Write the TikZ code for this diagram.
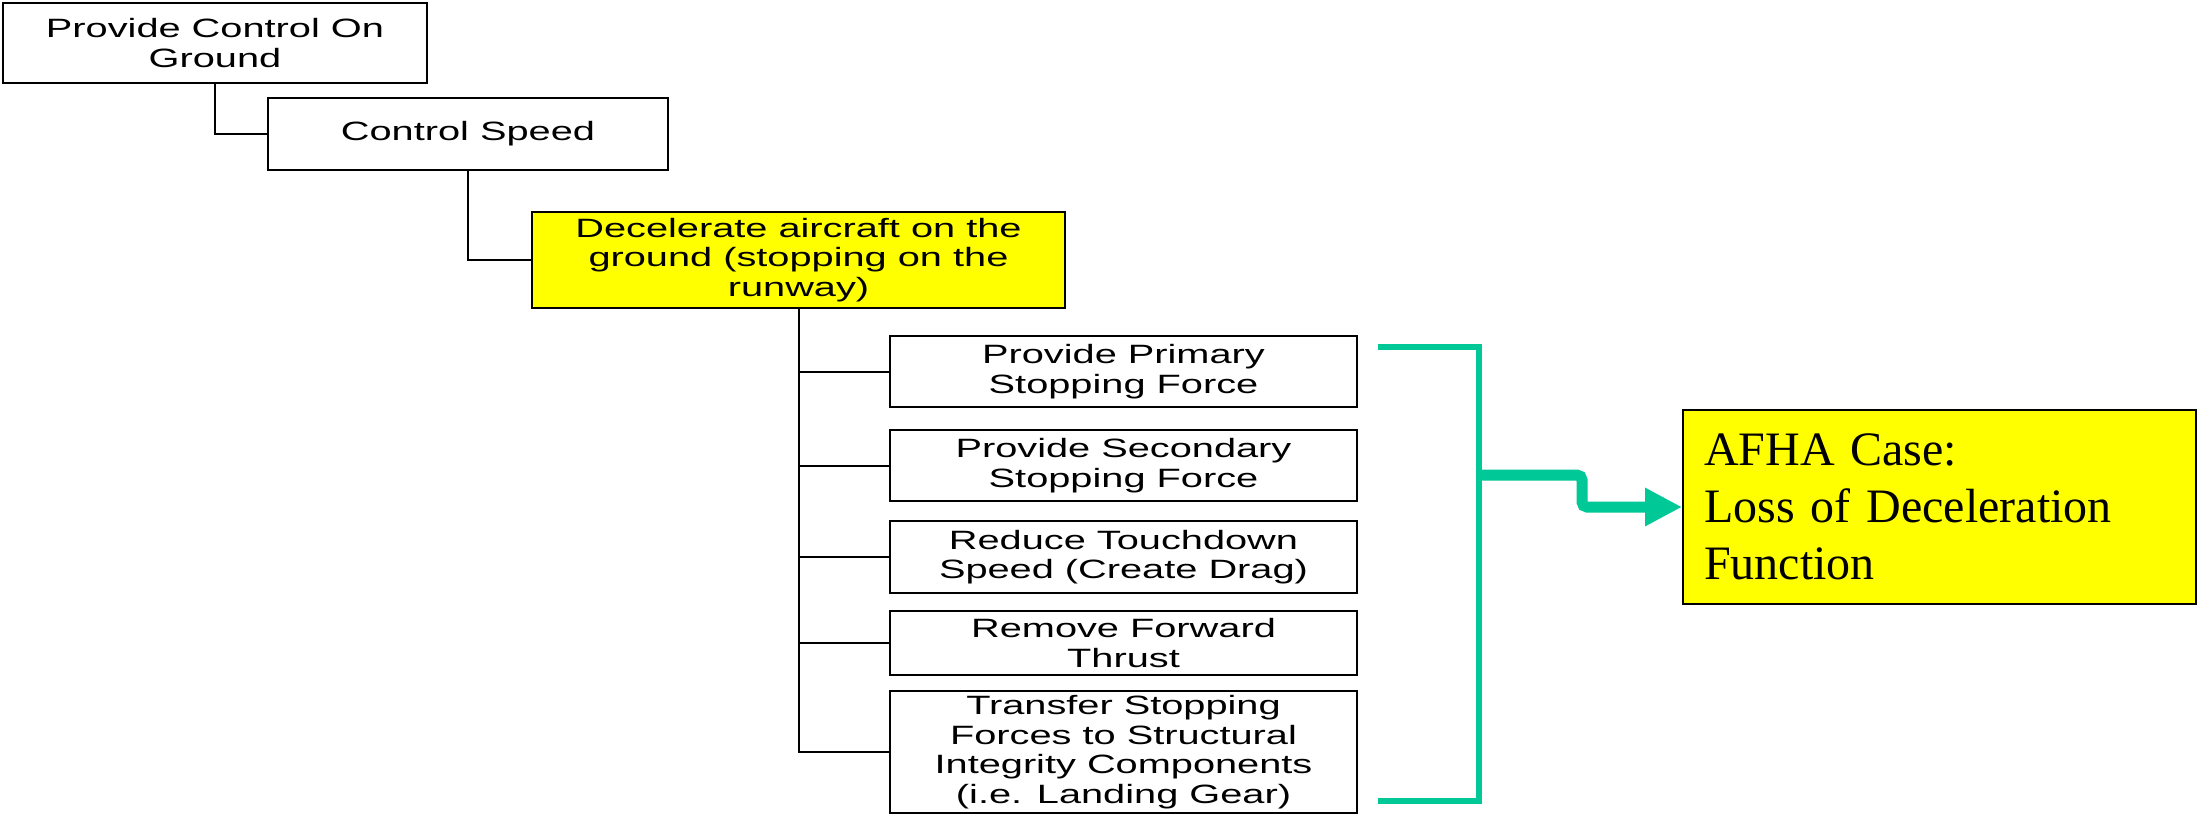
\documentclass[tikz,border=0pt]{standalone}
\usepackage{fontspec}
\usetikzlibrary{arrows.meta}
\newfontfamily\boxfont[FakeStretch=1.5]{Liberation Sans}
\newfontfamily\caseFont{Liberation Serif}
\definecolor{brgreen}{RGB}{0,200,150}
\definecolor{hiyellow}{RGB}{255,255,0}
\tikzset{
  fbox/.style={draw=black, line width=2pt, inner sep=0pt, align=center,
    font=\boxfont\fontsize{26.5}{29.5}\selectfont},
  conn/.style={draw=black, line width=2pt},
  brk/.style={draw=brgreen, line width=6pt},
}
\begin{document}
\begin{tikzpicture}[x=1pt,y=-1pt]
\useasboundingbox (0,0) rectangle (2198,815);
\node[fbox, minimum width=424pt, minimum height=80pt] (b1) at (215,43) {Provide Control On\\Ground};
\node[fbox, minimum width=400pt, minimum height=72pt] (b2) at (468,134) {Control Speed};
\node[fbox, fill=hiyellow, minimum width=533pt, minimum height=96pt] (b3) at (798.5,260) {Decelerate aircraft on the\\ground (stopping on the\\runway)};
\node[fbox, minimum width=467pt, minimum height=71pt] (c1) at (1123.5,371.5) {Provide Primary\\Stopping Force};
\node[fbox, minimum width=467pt, minimum height=71pt] (c2) at (1123.5,465.5) {Provide Secondary\\Stopping Force};
\node[fbox, minimum width=467pt, minimum height=72pt] (c3) at (1123.5,557) {Reduce Touchdown\\Speed (Create Drag)};
\node[fbox, minimum width=467pt, minimum height=64pt] (c4) at (1123.5,643) {Remove Forward\\Thrust};
\node[fbox, minimum width=467pt, minimum height=122pt] (c5) at (1123.5,752) {Transfer Stopping\\Forces to Structural\\Integrity Components\\(i.e. Landing Gear)};
\node[draw=black, line width=2pt, fill=hiyellow, minimum width=513pt, minimum height=194pt,
  text width=471pt, inner xsep=21pt, inner ysep=0pt, align=left,
  font=\caseFont\fontsize{48}{57}\selectfont] (afha) at (1939.5,507) {AFHA Case:\\Loss of Deceleration\\Function};
\draw[conn] (b1.south) |- (b2.west);
\draw[conn] (b2.south) |- (b3.west);
\foreach \c in {c1,c2,c3,c4,c5} \draw[conn] (b3.south) |- (\c.west);
\coordinate (bt) at (1378,347);
\coordinate (bb) at (1378,801);
\coordinate (bv) at (1479,475);
\draw[brk] (bt) -- (1479,347) -- (1479,801) -- (bb);
\draw[draw=brgreen, line width=11pt, rounded corners=5pt, -{Triangle[length=37pt,width=36pt]}]
  (bv) -- (1582,475) |- (afha.west);
\end{tikzpicture}
\end{document}
